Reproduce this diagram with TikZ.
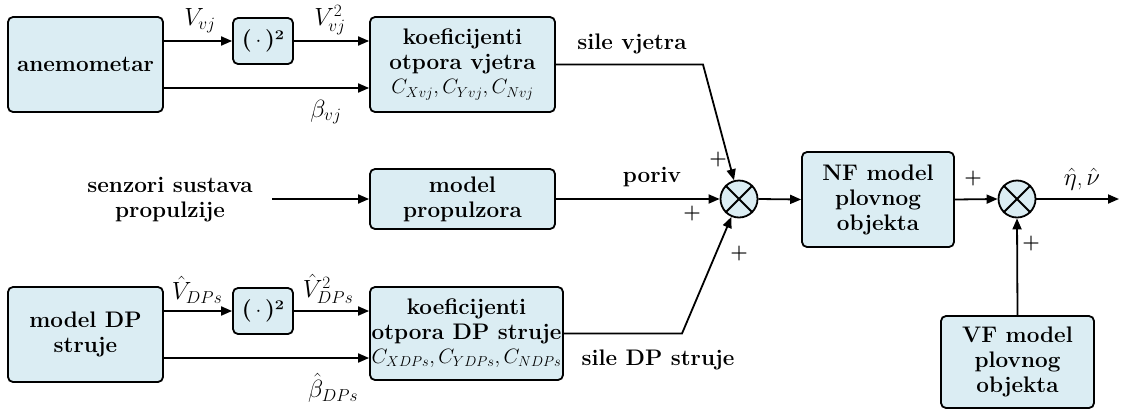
\documentclass[tikz,border=0pt]{standalone}
\usepackage{fontspec}
\usetikzlibrary{arrows.meta,calc}
\definecolor{boxfill}{RGB}{219,237,243}
\tikzset{
  blk/.style={draw, fill=boxfill, rounded corners=5pt, line width=1.8pt, align=center,
    inner sep=0pt, font=\fontsize{22.5}{25}\selectfont\bfseries},
  sumnode/.style={draw, circle, fill=boxfill, line width=1.8pt, minimum size=37pt, inner sep=0pt},
  conn/.style={line width=1.8pt, -{Triangle[length=11pt,width=9pt]}},
  wire/.style={line width=1.8pt},
  lbl/.style={font=\fontsize{23}{24}\selectfont, inner sep=0pt},
  txt/.style={font=\fontsize{22.5}{25}\selectfont\bfseries, align=center, inner sep=0pt},
  plus/.style={font=\fontsize{20}{20}\selectfont\bfseries, inner sep=0pt}
}
\begin{document}
\begin{tikzpicture}[x=1pt,y=-1pt]
\useasboundingbox (0,0) rectangle (1121,410);
% boxes
\node[blk, minimum width=155pt, minimum height=95pt] (anem) at (85.5,64.5) {anemometar};
\node[blk, minimum width=60pt, minimum height=46pt] (sq1) at (263,41) {(\,$\cdot$\,)²};
\node[blk, minimum width=185pt, minimum height=95pt] (kv) at (462.5,64.5) {koeficijenti\\otpora vjetra\\[-1pt]{\mdseries\fontsize{22}{24}\selectfont $C_{Xvj}, C_{Yvj}, C_{Nvj}$}};
\node[txt] (senz) at (170,200) {senzori sustava\\propulzije};
\node[blk, minimum width=185pt, minimum height=60pt] (prop) at (462.5,199) {model\\propulzora};
\node[blk, minimum width=155pt, minimum height=95pt] (dp) at (85.5,334.5) {model DP\\struje};
\node[blk, minimum width=60pt, minimum height=46pt] (sq2) at (263,311) {(\,$\cdot$\,)²};
\node[blk, minimum width=193pt, minimum height=93pt] (kdp) at (466.5,333.5) {koeficijenti\\otpora DP struje\\[-1pt]{\mdseries\fontsize{20}{22}\selectfont $C_{XDPs}, C_{YDPs}, C_{NDPs}$}};
\node[sumnode] (sum1) at (739,199) {};
\node[blk, minimum width=152pt, minimum height=95pt] (nf) at (878,199.5) {NF model\\plovnog\\objekta};
\node[sumnode] (sum2) at (1017,199) {};
\node[blk, minimum width=153pt, minimum height=92pt] (vf) at (1017.5,362) {VF model\\plovnog\\objekta};
% crosses
\foreach \s in {sum1,sum2}{
  \draw[wire] (\s.north east) -- (\s.south west);
  \draw[wire] (\s.north west) -- (\s.south east);
}
% coordinates
\coordinate (b1) at (163,88);
\coordinate (b2) at (163,358);
\coordinate (senzend) at (272,199);
\coordinate (kink1) at (703,64.5);
\coordinate (kink2) at (682,333.5);
\coordinate (outend) at (1119,199);
% connectors
\draw[conn] (anem.east |- sq1.west) -- (sq1.west);
\draw[conn] (sq1.east) -- (kv.west |- sq1.east);
\draw[conn] (b1) -- (kv.west |- b1);
\draw[conn] (dp.east |- sq2.west) -- (sq2.west);
\draw[conn] (sq2.east) -- (kdp.west |- sq2.east);
\draw[conn] (b2) -- (kdp.west |- b2);
\draw[conn] (senzend) -- (prop.west);
\draw[conn] (kv.east) -- (kink1) -- (sum1);
\draw[conn] (kdp.east) -- (kink2) -- (sum1);
\draw[conn] (prop.east) -- (sum1.west);
\draw[conn] (sum1.east) -- (nf.west);
\draw[conn] (nf.east) -- (sum2.west);
\draw[conn] (sum2.east) -- (outend);
\draw[conn] (vf.north) -- (sum2.south);
% labels
\node[lbl] (l1) at (200,21) {$V_{vj}$};
\node[lbl] (l2) at (330,20) {$V_{vj}^{2}$};
\node[lbl] (l3) at (326,112) {$\beta_{vj}$};
\node[lbl] (l4) at (197,290) {$\hat{V}_{DPs}$};
\node[lbl] (l5) at (328,289) {$\hat{V}_{DPs}^{2}$};
\node[lbl] (l6) at (333,388) {$\hat{\beta}_{DPs}$};
\node[txt] (t1) at (632,44) {sile vjetra};
\node[txt] (t2) at (652,177) {poriv};
\node[txt] (t3) at (658,360) {sile DP struje};
\node[lbl] (t4) at (1082,179) {$\hat{\eta}$,\,$\hat{\nu}$};
% plus signs
\node[plus] (p1) at (718,160) {+};
\node[plus] (p2) at (692,214) {+};
\node[plus] (p3) at (739,254) {+};
\node[plus] (p4) at (973,179) {+};
\node[plus] (p5) at (1031,244) {+};
\end{tikzpicture}
\end{document}
